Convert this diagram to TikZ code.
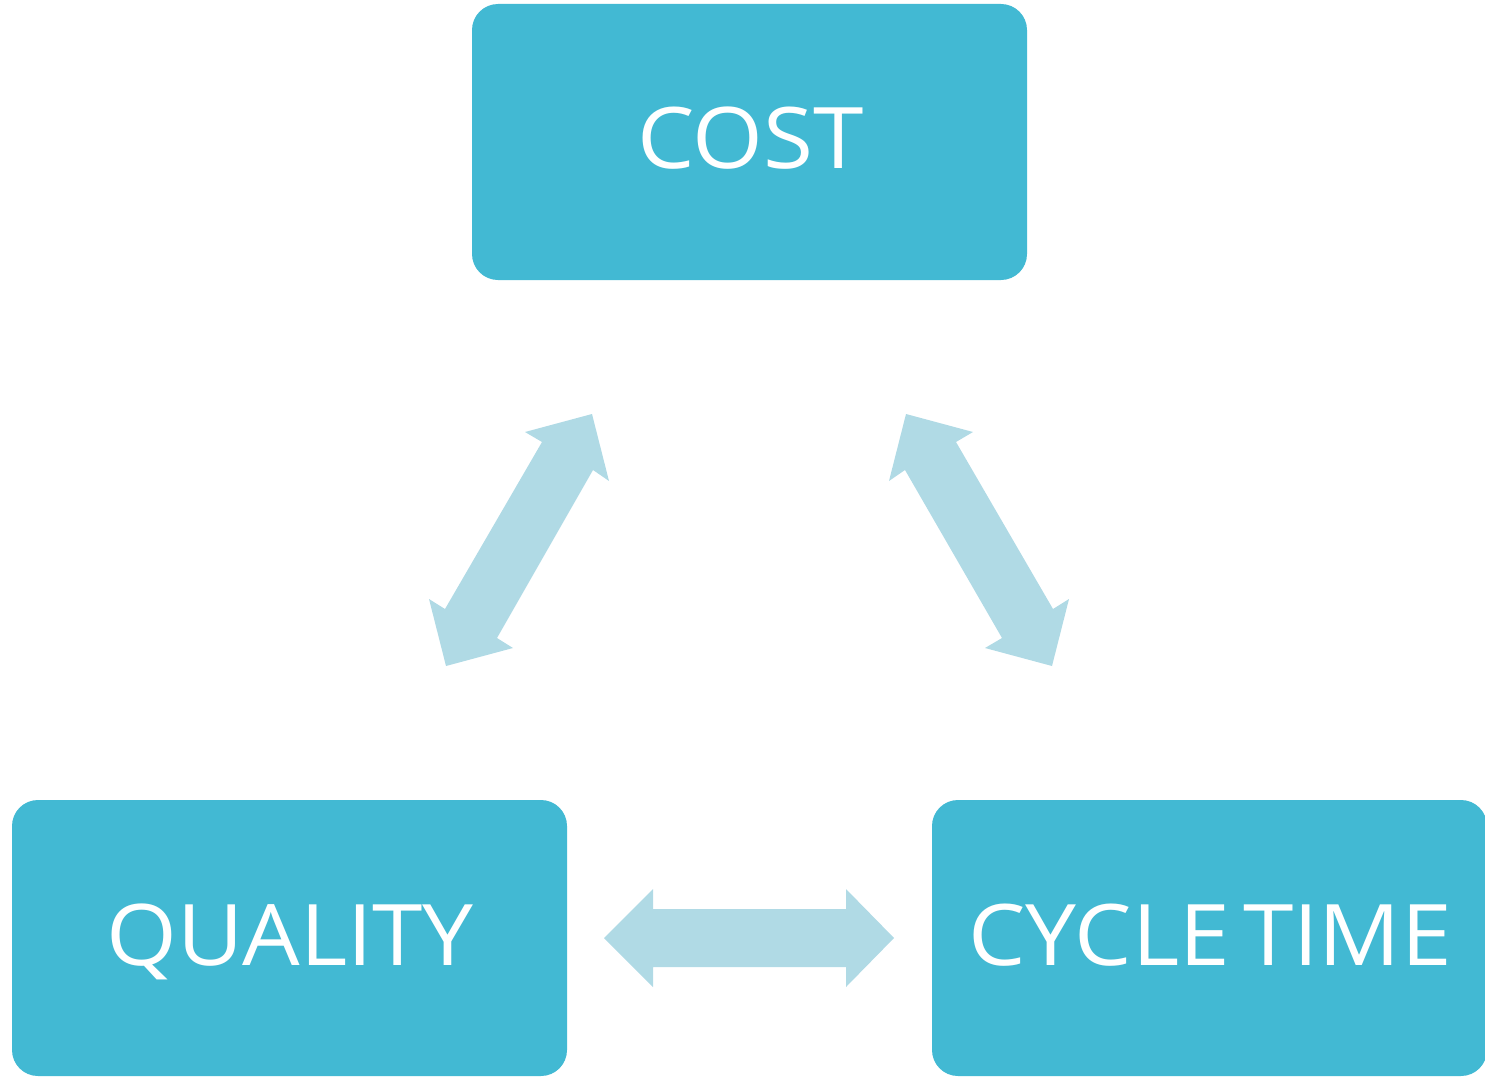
\documentclass[tikz,border=0pt]{standalone}
\usepackage{fontspec}
\setmainfont{Open Sans}
\newfontfamily\lblfont[FakeStretch=1.07]{Open Sans}
\definecolor{boxblue}{HTML}{42B9D3}
\definecolor{arrowblue}{HTML}{B0DAE5}
\tikzset{
  box/.style={fill=boxblue, rounded corners=26pt, draw=none},
  lbl/.style={text=white, font=\lblfont\fontsize{85}{100}\selectfont, inner sep=0pt, anchor=base},
  dblarrow/.style={fill=arrowblue, draw=none}
}
\begin{document}
\begin{tikzpicture}[x=1pt,y=-1pt]
\useasboundingbox (0,0) rectangle (1485,1081);
\begin{scope}
\clip (0,0) rectangle (1485,1081);
\fill[box] (472,4) rectangle (1027,280);
\fill[box] (12,800) rectangle (567,1076);
\fill[box] (932,800) rectangle (1487,1076);
\end{scope}
\node[lbl] (cost) at (750.5,168) {COST};
\node[lbl] (quality) at (290,965) {QUALITY};
\node[lbl] (cycle) at (1210,965) {CYCLE\kern-0.12em\ TIME};
% horizontal double arrow
\fill[dblarrow] (604,938) -- (653,889) -- (653,909) -- (846,909) -- (846,889) -- (894,938)
  -- (846,987) -- (846,967) -- (653,967) -- (653,987) -- cycle;
% left diagonal double arrow
\fill[dblarrow] (592,414) -- (609,481) -- (593,470) -- (497,638) -- (513,648) -- (446,666)
  -- (429,599) -- (445,609) -- (542,442) -- (525,432) -- cycle;
% right diagonal double arrow
\fill[dblarrow] (906,414) -- (973,432) -- (956,442) -- (1053,609) -- (1069,599) -- (1052,666)
  -- (985,648) -- (1002,638) -- (905,470) -- (889,481) -- cycle;
\end{tikzpicture}
\end{document}
